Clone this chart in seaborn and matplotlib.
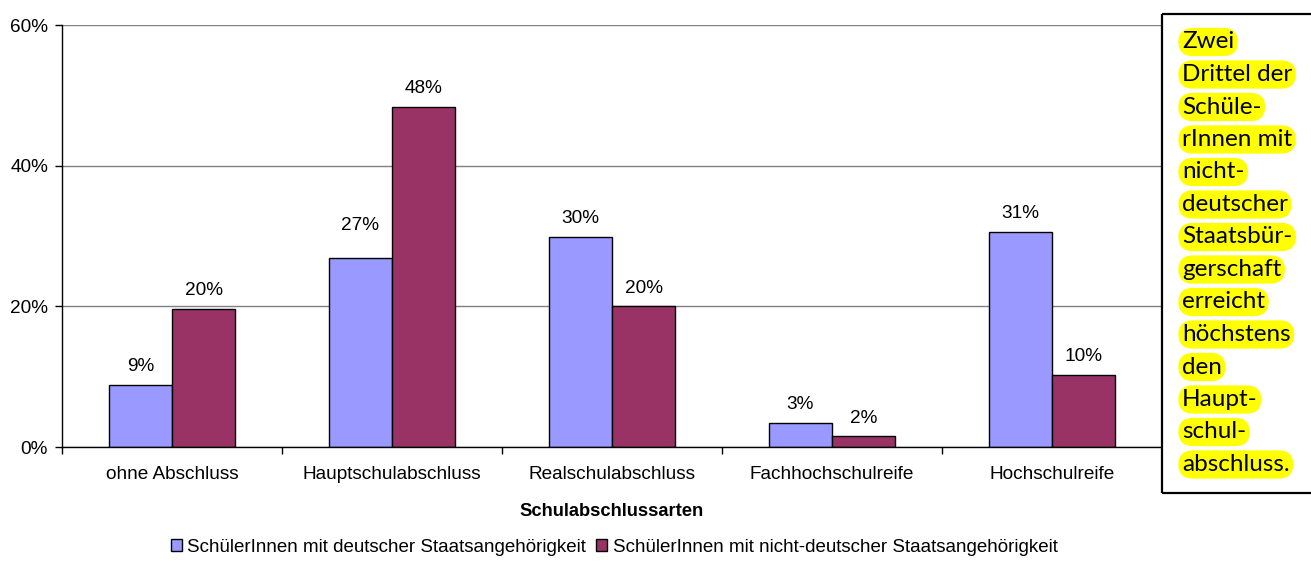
import matplotlib
matplotlib.use("Agg")
import matplotlib.pyplot as plt
from matplotlib.patches import Rectangle, Patch
from matplotlib.lines import Line2D
from matplotlib.ticker import FixedLocator
import seaborn as sns
import pandas as pd

# Abschlussarten und Anteile (in %) je Staatsangehörigkeit
categories = ["ohne Abschluss", "Hauptschulabschluss", "Realschulabschluss",
              "Fachhochschulreife", "Hochschulreife"]
series_names = ["SchülerInnen mit deutscher Staatsangehörigkeit",
                "SchülerInnen mit nicht-deutscher Staatsangehörigkeit"]
deutsch = [8.8, 26.9, 29.9, 3.4, 30.6]
nicht_deutsch = [19.6, 48.4, 20.0, 1.5, 10.3]
y_ticks = [0, 20, 40, 60]
y_tick_labels = ["0%", "20%", "40%", "60%"]
note_lines = ["Zwei", "Drittel der", "Schüle-", "rInnen mit", "nicht-",
              "deutscher", "Staatsbür-", "gerschaft", "erreicht", "höchstens",
              "den", "Haupt-", "schul-", "abschluss."]

df = pd.DataFrame({
    "Abschluss": categories * 2,
    "Gruppe": [series_names[0]] * len(categories) + [series_names[1]] * len(categories),
    "Anteil": deutsch + nicht_deutsch,
})

sns.set_theme(style="white")
plt.rcParams["font.family"] = ["Liberation Sans", "DejaVu Sans"]
plt.rcParams["text.color"] = "black"
plt.rcParams["axes.labelcolor"] = "black"
plt.rcParams["xtick.color"] = "black"
plt.rcParams["ytick.color"] = "black"

FS = 13.7
W, H = 1311, 567
fig = plt.figure(figsize=(W / 100, H / 100), dpi=100, facecolor="white",
                 edgecolor="white", linewidth=0)
ax = fig.add_axes([62 / W, 1 - 447 / H, 1100 / W, 422 / H])

colors = ["#9999FF", "#993366"]
sns.barplot(data=df, x="Abschluss", y="Anteil", hue="Gruppe", order=categories,
            hue_order=series_names, palette=colors, width=0.573, gap=0,
            edgecolor="black", linewidth=1.0, saturation=1, legend=False, ax=ax)

ax.set_xlim(-0.5, len(categories) - 0.5)
ax.set_ylim(0, 60)
ax.set_yticks(y_ticks)
ax.set_yticklabels(y_tick_labels, fontsize=FS)
ax.yaxis.grid(True, color="#808080", linewidth=1.0)
ax.set_axisbelow(True)
ax.tick_params(axis="y", length=5, width=1, color="black", direction="out",
               left=True, pad=5)
ax.tick_params(axis="x", which="major", length=0, pad=14, labelsize=FS)
ax.xaxis.set_minor_locator(FixedLocator([i - 0.5 for i in range(len(categories) + 1)]))
ax.tick_params(axis="x", which="minor", length=5, width=1, color="black",
               direction="out", bottom=True)

for side in ["top", "right"]:
    ax.spines[side].set_visible(False)
for side in ["left", "bottom"]:
    ax.spines[side].set_color("black")
    ax.spines[side].set_linewidth(1.0)

ax.set_xlabel("Schulabschlussarten", fontsize=FS - 0.5, fontweight="bold", labelpad=14)
ax.set_ylabel("")

# Wertbeschriftungen über den Balken
label_sets = []
for cont in ax.containers:
    anns = ax.bar_label(cont, labels=[f"{v:.0f}%" for v in cont.datavalues],
                        padding=7, fontsize=FS)
    label_sets.append(anns)
# Beschriftung des kleineren Hauptschul-Balkens etwas höher gesetzt
label_sets[0][1].xyann = (0, 17)

# Legende unterhalb der Grafik
handles = [Patch(facecolor=c, edgecolor="black", linewidth=1.0) for c in colors]
fig.legend(handles, series_names, loc="center", bbox_to_anchor=(614 / W, 1 - 547 / H),
           ncol=2, frameon=False, fontsize=13.5, handlelength=0.6, handleheight=0.6,
           handletextpad=0.3, columnspacing=0.5)

# Textkasten mit Hinweis (rechts offen, läuft über den Bildrand)
x0, y_top, y_bot = 1162 / W, 1 - 14 / H, 1 - 493 / H
fig.patches.append(Rectangle((x0, y_bot), 1 - x0, y_top - y_bot,
                             transform=fig.transFigure, facecolor="white",
                             edgecolor="none", zorder=5))
for xs, ys in [([x0, x0], [y_bot, y_top]), ([x0, 1.0], [y_top, y_top]),
               ([x0, 1.0], [y_bot, y_bot])]:
    fig.lines.append(Line2D(xs, ys, transform=fig.transFigure, color="black",
                            linewidth=1.6, zorder=5.5, solid_capstyle="butt"))
for i, line in enumerate(note_lines):
    y = 42 + i * 32.5
    fig.text(1182 / W, 1 - y / H, line, fontsize=17.5, family=["Lato", "DejaVu Sans"],
             va="center", ha="left", zorder=6,
             bbox=dict(boxstyle="round,pad=0.15,rounding_size=0.6",
                       facecolor="#FFFF00", edgecolor="none"))

fig.savefig("out.png", dpi=100, facecolor="white", edgecolor="white")
